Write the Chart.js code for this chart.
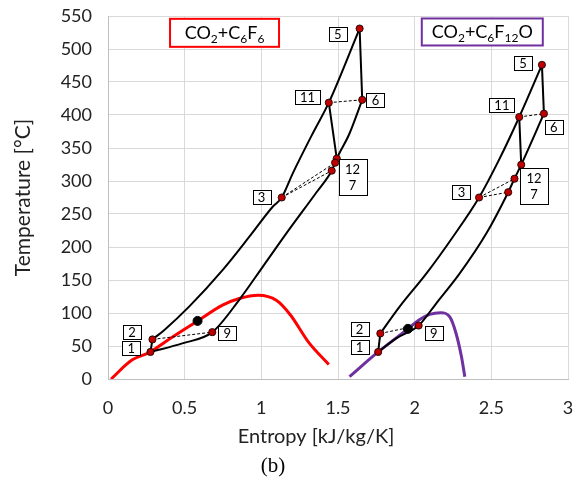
<!DOCTYPE html>
<html>
<head>
<meta charset="utf-8">
<script src="https://cdn.jsdelivr.net/npm/chart.js@4/dist/chart.umd.min.js"></script>
<style>
  html, body { margin: 0; padding: 0; background: #fff; }
  #wrap { width: 578px; height: 486px; }
</style>
</head>
<body>
<div id="wrap"><canvas id="tsChart" width="578" height="486"></canvas></div>
<script>
// Saturation domes of the two mixtures
const domeC6F6S = [0.02, 0.158, 0.277, 0.377, 0.584, 0.747, 0.856, 0.98, 1.10, 1.19, 1.31, 1.44];
const domeC6F6T = [0, 29, 41, 57, 88, 112, 122, 127, 119, 97, 55, 22];
const domeC6F12OS = [1.575, 1.762, 1.956, 2.026, 2.098, 2.17, 2.229, 2.27, 2.305, 2.327];
const domeC6F12OT = [3.5, 41, 76, 89, 98, 100.5, 94, 69, 34, 3.5];

// CO2+C6F6 cycle: high pressure branch 2-3-11-5, low pressure branch 1-9-7-12-6
const leftHighS = [0.29, 0.366, 0.529, 0.747, 0.922, 1.074, 1.133, 1.205, 1.335, 1.44, 1.641];
const leftHighT = [60, 74, 109.6, 165, 215.6, 261, 275, 311.6, 372, 418.7, 531];
const leftLowS = [0.277, 0.485, 0.68, 0.856, 1.009, 1.183, 1.36, 1.459, 1.481, 1.492, 1.575, 1.658];
const leftLowT = [41, 54, 71, 120, 170, 227, 283, 315.6, 327.7, 334, 372, 423];

// CO2+C6F12O cycle
const rightHighS = [1.776, 1.902, 2.077, 2.25, 2.42, 2.55, 2.682, 2.83];
const rightHighT = [69, 109.6, 160, 215.6, 275, 332, 397, 476];
const rightLowS = [1.762, 1.88, 2.026, 2.141, 2.294, 2.468, 2.61, 2.651, 2.695, 2.843];
const rightLowT = [41, 61.6, 81, 114.7, 160, 220.7, 283, 303.5, 324.7, 402];

// state points: 1, 2, 3, 5, 6, 9, 11, 12a, 12b, 7
const leftPtS = [0.277, 0.29, 1.133, 1.641, 1.658, 0.68, 1.44, 1.492, 1.481, 1.459];
const leftPtT = [41, 60, 275, 531, 423, 71, 418.7, 334, 327.7, 315.6];
const rightPtS = [1.762, 1.776, 2.42, 2.83, 2.843, 2.026, 2.682, 2.695, 2.651, 2.61];
const rightPtT = [41, 69, 275, 476, 402, 81, 397, 324.7, 303.5, 283];

// black points on the domes
const dotS = [0.584, 1.956];
const dotT = [88, 76];

// point label boxes
const labelText = ['5', '6', '11', '12\n7', '3', '2', '1', '9', '5', '11', '6', '12\n7', '3', '2', '1', '9'];
const labelS = [1.498, 1.744, 1.301, 1.595, 1.002, 0.157, 0.152, 0.778, 2.706, 2.569, 2.908, 2.778, 2.305, 1.641, 1.641, 2.124];
const labelT = [522.3, 422.7, 427.3, 306, 276.2, 71.7, 46.5, 69.7, 479.5, 415, 382.3, 292.4, 283.8, 75.3, 49, 70.2];

const xTicks = [0, 0.5, 1, 1.5, 2, 2.5, 3];
const yMax = 550;

function pts(xs, ys) {
    return xs.map((x, i) => ({ x: x, y: ys[i] }));
}
function seg(xs, ys, a, b) {
    return [{ x: xs[a], y: ys[a] }, { x: xs[b], y: ys[b] }];
}

const datasets = [];

// markers on top
datasets.push({ data: pts(dotS, dotT), showLine: false, pointRadius: 4.5, pointBackgroundColor: '#000', pointBorderColor: '#000', pointBorderWidth: 1 });
datasets.push({ data: pts(leftPtS, leftPtT).concat(pts(rightPtS, rightPtT)), showLine: false, pointRadius: 3.6, pointBackgroundColor: '#c00000', pointBorderColor: '#000', pointBorderWidth: 0.8 });

// dashed connections: 11-6, 2-9, 3-12b, 3-7
[[leftPtS, leftPtT], [rightPtS, rightPtT]].forEach(([s, t]) => {
    [[6, 4], [1, 5], [2, 8], [2, 9]].forEach(([a, b]) => {
        datasets.push({ data: seg(s, t, a, b), showLine: true, borderColor: '#000', borderWidth: 1, borderDash: [3, 2], pointRadius: 0, tension: 0 });
    });
    // solid short lines 1-2, 5-6, 11-12a
    [[0, 1], [3, 4], [6, 7]].forEach(([a, b]) => {
        datasets.push({ data: seg(s, t, a, b), showLine: true, borderColor: '#000', borderWidth: 2, pointRadius: 0, tension: 0 });
    });
});

// cycle branches
[[leftHighS, leftHighT], [leftLowS, leftLowT], [rightHighS, rightHighT], [rightLowS, rightLowT]].forEach(([s, t]) => {
    datasets.push({ data: pts(s, t), showLine: true, borderColor: '#000', borderWidth: 2, pointRadius: 0, cubicInterpolationMode: 'monotone' });
});

// domes underneath
datasets.push({ data: pts(domeC6F6S, domeC6F6T), showLine: true, borderColor: '#ff0000', borderWidth: 3, pointRadius: 0, cubicInterpolationMode: 'monotone' });
datasets.push({ data: pts(domeC6F12OS, domeC6F12OT), showLine: true, borderColor: '#7030a0', borderWidth: 3, pointRadius: 0, cubicInterpolationMode: 'monotone' });

// legend boxes with subscripts
const legendBoxes = [
    { parts: [['CO', 0], ['2', 1], ['+C', 0], ['6', 1], ['F', 0], ['6', 1]], color: '#ff0000', s: 0.760, t: 524.5, w: 109, h: 28 },
    { parts: [['CO', 0], ['2', 1], ['+C', 0], ['6', 1], ['F', 0], ['12', 1], ['O', 0]], color: '#7030a0', s: 2.441, t: 525.8, w: 121, h: 27 }
];

const overlay = {
    id: 'overlay',
    afterDatasetsDraw(chart) {
        const ctx = chart.ctx;
        const xs = chart.scales.x, ys = chart.scales.y;
        ctx.save();
        // point labels
        ctx.font = '13px Lato';
        ctx.textAlign = 'center';
        ctx.textBaseline = 'middle';
        labelText.forEach((txt, i) => {
            const lines = txt.split('\n');
            const cx = xs.getPixelForValue(labelS[i]);
            const cy = ys.getPixelForValue(labelT[i]);
            const tw = Math.max(...lines.map(l => ctx.measureText(l).width));
            const w = Math.round(tw + (lines.length > 1 ? 13 : 10));
            const h = lines.length > 1 ? 36 : 14;
            ctx.fillStyle = '#fff';
            ctx.fillRect(Math.round(cx - w / 2) + 0.5, Math.round(cy - h / 2) + 0.5, w, h);
            ctx.strokeStyle = '#000';
            ctx.lineWidth = 1;
            ctx.strokeRect(Math.round(cx - w / 2) + 0.5, Math.round(cy - h / 2) + 0.5, w, h);
            ctx.fillStyle = '#000';
            lines.forEach((l, k) => {
                ctx.fillText(l, cx, cy + (k - (lines.length - 1) / 2) * 16 + 1);
            });
        });
        // mixture boxes
        legendBoxes.forEach(b => {
            const cx = xs.getPixelForValue(b.s);
            const cy = ys.getPixelForValue(b.t);
            ctx.fillStyle = '#fff';
            ctx.fillRect(cx - b.w / 2, cy - b.h / 2, b.w, b.h);
            ctx.strokeStyle = b.color;
            ctx.lineWidth = 2;
            ctx.strokeRect(cx - b.w / 2, cy - b.h / 2, b.w, b.h);
            let total = 0;
            b.parts.forEach(([txt, sub]) => {
                ctx.font = sub ? '12px Lato' : '18px Lato';
                total += ctx.measureText(txt).width;
            });
            let x = cx - total / 2;
            ctx.textAlign = 'left';
            ctx.textBaseline = 'alphabetic';
            ctx.fillStyle = '#000';
            b.parts.forEach(([txt, sub]) => {
                ctx.font = sub ? '12px Lato' : '18px Lato';
                ctx.fillText(txt, x, cy + 6 + (sub ? 4 : 0));
                x += ctx.measureText(txt).width;
            });
        });
        // x axis title (sits left of the axis centre in the original) and panel caption
        ctx.textAlign = 'center';
        ctx.textBaseline = 'middle';
        ctx.fillStyle = '#222';
        ctx.font = '20px Lato';
        ctx.fillText('Entropy [kJ/kg/K]', 316, 437);
        ctx.font = '21px "Liberation Serif"';
        ctx.fillStyle = '#000';
        ctx.fillText('(b)', 273, 466);
        ctx.restore();
    }
};

new Chart(document.getElementById('tsChart').getContext('2d'), {
    type: 'scatter',
    data: { datasets },
    options: {
        responsive: false,
        animation: false,
        layout: { padding: { top: 16, right: 10, bottom: 37, left: 0 } },
        plugins: { legend: { display: false }, tooltip: { enabled: false } },
        scales: {
            x: {
                type: 'linear', min: 0, max: 3,
                afterBuildTicks: (axis) => { axis.ticks = xTicks.map(v => ({ value: v })); },
                afterFit: (axis) => { axis.height = 70; axis.paddingLeft = 0; axis.paddingRight = 0; },
                grid: { color: '#d9d9d9', drawTicks: false },
                border: { color: '#bfbfbf' },
                ticks: { padding: 18, color: '#222', font: { family: 'Lato', size: 18 }, callback: (v) => String(v) },
                title: { display: false }
            },
            y: {
                type: 'linear', min: 0, max: yMax,
                ticks: { stepSize: 50, padding: 16, color: '#222', font: { family: 'Lato', size: 18 } },
                afterFit: (axis) => { axis.width = 108; axis.paddingTop = 0; axis.paddingBottom = 0; },
                grid: { color: '#d9d9d9', drawTicks: false },
                border: { color: '#bfbfbf' },
                title: { display: true, text: 'Temperature [°C]', color: '#222', padding: { top: 11, bottom: 0 }, font: { family: 'Lato', size: 21 } }
            }
        }
    },
    plugins: [overlay]
});
</script>
</body>
</html>
